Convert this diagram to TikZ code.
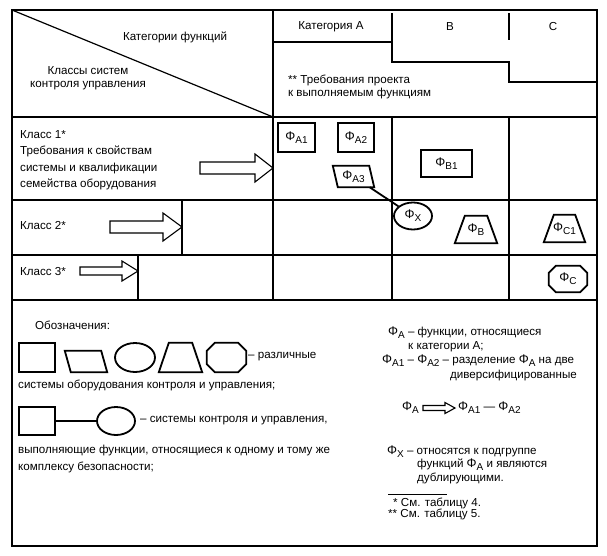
\documentclass[tikz,border=0pt]{standalone}
\usepackage{fontspec}
\setmainfont{Liberation Sans}
\usetikzlibrary{shapes.geometric}
\newcommand\phs[1]{{\fontsize{12.5}{13}\selectfont Φ}\raisebox{-0.45ex}{\fontsize{10}{10}\selectfont #1}}
\newcommand\parallelo[2]{\draw[shp] (#1.north west) -- ([xshift=-#2]#1.north east) -- (#1.south east) -- ([xshift=#2]#1.south west) -- cycle;}
\newcommand\trapz[2]{\draw[shp] ([xshift=#2]#1.north west) -- ([xshift=-#2]#1.north east) -- (#1.south east) -- (#1.south west) -- cycle;}
\newcommand\octa[2]{\draw[shp] ([xshift=#2]#1.north west) -- ([xshift=-#2]#1.north east) -- ([yshift=-#2]#1.north east) -- ([yshift=#2]#1.south east) -- ([xshift=-#2]#1.south east) -- ([xshift=#2]#1.south west) -- ([yshift=#2]#1.south west) -- ([yshift=-#2]#1.north west) -- cycle;}
\begin{document}
\begin{tikzpicture}[x=1pt,y=-1pt,
  every node/.style={font=\fontsize{11.6}{13.5}\selectfont, inner sep=0pt},
  grid/.style={line width=1.2pt},
  frame/.style={line width=1.5pt},
  shp/.style={line width=1.8pt},
  box/.style={draw, line width=1.8pt, minimum width=#1},
  barr/.style={line width=1.1pt, fill=white},
  txt/.style={anchor=west, align=left}]
\useasboundingbox (0,0) rectangle (607,555);
\fill[white] (0,0) rectangle (607,555);
% outer frame
\draw[frame] (12,10) rectangle (597,546);
% table grid
\draw[grid] (12,117) -- (597,117);
\draw[grid] (12,200) -- (597,200);
\draw[grid] (12,255) -- (597,255);
\draw[frame] (12,300) -- (597,300);
\draw[grid] (273,10) -- (273,300);
\draw[grid] (392,117) -- (392,300);
\draw[grid] (509,117) -- (509,300);
\draw[grid] (182,200) -- (182,255);
\draw[grid] (138,255) -- (138,300);
% diagonal
\draw[grid] (12,10) -- (273,117);
% header steps
\draw[grid] (273,42) -- (392,42);
\draw[grid] (392,13) -- (392,62) -- (509,62) -- (509,82) -- (597,82);
\draw[grid] (509,13) -- (509,40);
% header text
\node (hcat) at (175,37) {Категории функций};
\node[align=center] (hcls) at (88,78) {Классы систем\\контроля управления};
\node (hA) at (331,27) {Категория А};
\node (hB) at (450,27) {В};
\node (hC) at (553,27) {С};
\node[txt, font=\fontsize{11.6}{13}\selectfont] (hreq) at (288,86.5) {** Требования проекта\\к выполняемым функциям};
% row labels
\node[txt] (k1) at (20,135) {Класс 1*};
\node[txt, font=\fontsize{11.6}{16.5}\selectfont] (k1t) at (20,168) {Требования к свойствам\\системы и квалификации\\семейства оборудования};
\node[txt] (k2) at (20,225) {Класс 2*};
\node[txt] (k3) at (20,271) {Класс 3*};
% block arrows
\draw[barr] (200,162) -- (255,162) -- (255,154) -- (273,168) -- (255,182) -- (255,174) -- (200,174) -- cycle;
\draw[barr] (110,221) -- (163,221) -- (163,213) -- (182,227) -- (163,241) -- (163,233) -- (110,233) -- cycle;
\draw[barr] (80,267) -- (122,267) -- (122,261) -- (138,271) -- (122,281) -- (122,275) -- (80,275) -- cycle;
% function nodes
\node[box=37pt, minimum height=29pt] (A1) at (296.5,137.5) {\phs{A1}};
\node[box=36pt, minimum height=29pt] (A2) at (356,137.5) {\phs{A2}};
\node[minimum width=41pt, minimum height=21pt] (A3) at (353.5,176.5) {\phs{A3}};
\parallelo{A3}{5pt}
\node[box=51pt, minimum height=27pt] (B1) at (446.5,163.5) {\phs{B1}};
\node[draw, ellipse, line width=1.8pt, minimum width=38pt, minimum height=27pt] (X) at (413,216) {\phs{X}};
\node[minimum width=42pt, minimum height=27pt] (B) at (476,229.5) {\phs{B}};
\trapz{B}{10pt}
\node[minimum width=41pt, minimum height=27pt] (C1) at (564.5,228.5) {\phs{C1}};
\trapz{C1}{10pt}
\node[minimum width=38pt, minimum height=26pt] (C) at (568,279) {\phs{C}};
\octa{C}{7pt}
\draw[shp] (A3) -- (X);
% legend left
\node[txt] (obz) at (35,325) {Обозначения:};
\node[box=36pt, minimum height=29pt] (sq1) at (37,357.5) {};
\node[minimum width=42pt, minimum height=21pt] (par1) at (86,361.5) {};
\parallelo{par1}{6pt}
\node[draw, ellipse, line width=1.8pt, minimum width=40pt, minimum height=29pt] (el1) at (135,357.5) {};
\node[minimum width=43pt, minimum height=29pt] (tr1) at (180.5,357.5) {};
\trapz{tr1}{10pt}
\node[minimum width=39pt, minimum height=29pt] (oc1) at (226.5,357.5) {};
\octa{oc1}{8pt}
\node[txt] (l1a) at (248,357) {– различные};
\node[txt] (l1b) at (18,385) {системы оборудования контроля и управления;};
\node[box=36pt, minimum height=28pt] (sq2) at (37,421) {};
\node[draw, ellipse, line width=1.8pt, minimum width=38pt, minimum height=28pt] (el2) at (116,421) {};
\draw[shp] (sq2) -- (el2);
\node[txt] (l2a) at (140,421) {– системы контроля и управления,};
\node[txt] (l2b) at (18,450) {выполняющие функции, относящиеся к одному и тому же};
\node[txt] (l2c) at (18,467) {комплексу безопасности;};
% legend right
\node[txt] (r1) at (388,333) {\phs{A} – функции, относящиеся};
\node[txt] (r2) at (408,347) {к категории А;};
\node[txt] (r3) at (382,361) {\phs{A1} – \phs{A2} – разделение \phs{A} на две};
\node[txt] (r4) at (450,375) {диверсифицированные};
\node[txt] (r5) at (402,408) {\phs{A}};
\draw[barr] (423,405.5) -- (445,405.5) -- (445,402.5) -- (455,408) -- (445,413.5) -- (445,410.5) -- (423,410.5) -- cycle;
\node[txt] (r6) at (458,408) {\phs{A1} — \phs{A2}};
\node[txt] (r7) at (387,452) {\phs{X} – относятся к подгруппе};
\node[txt] (r8) at (417,465) {функций \phs{A} и являются};
\node[txt] (r9) at (417,478) {дублирующими.};
\coordinate (rl1) at (388,494);
\coordinate (rl2) at (447,494);
\draw[line width=0.8pt] (rl1) -- (rl2);
\node[txt] (f1) at (393,503) {* См. таблицу 4.};
\node[txt] (f2) at (388,514) {** См. таблицу 5.};
\end{tikzpicture}
\end{document}
